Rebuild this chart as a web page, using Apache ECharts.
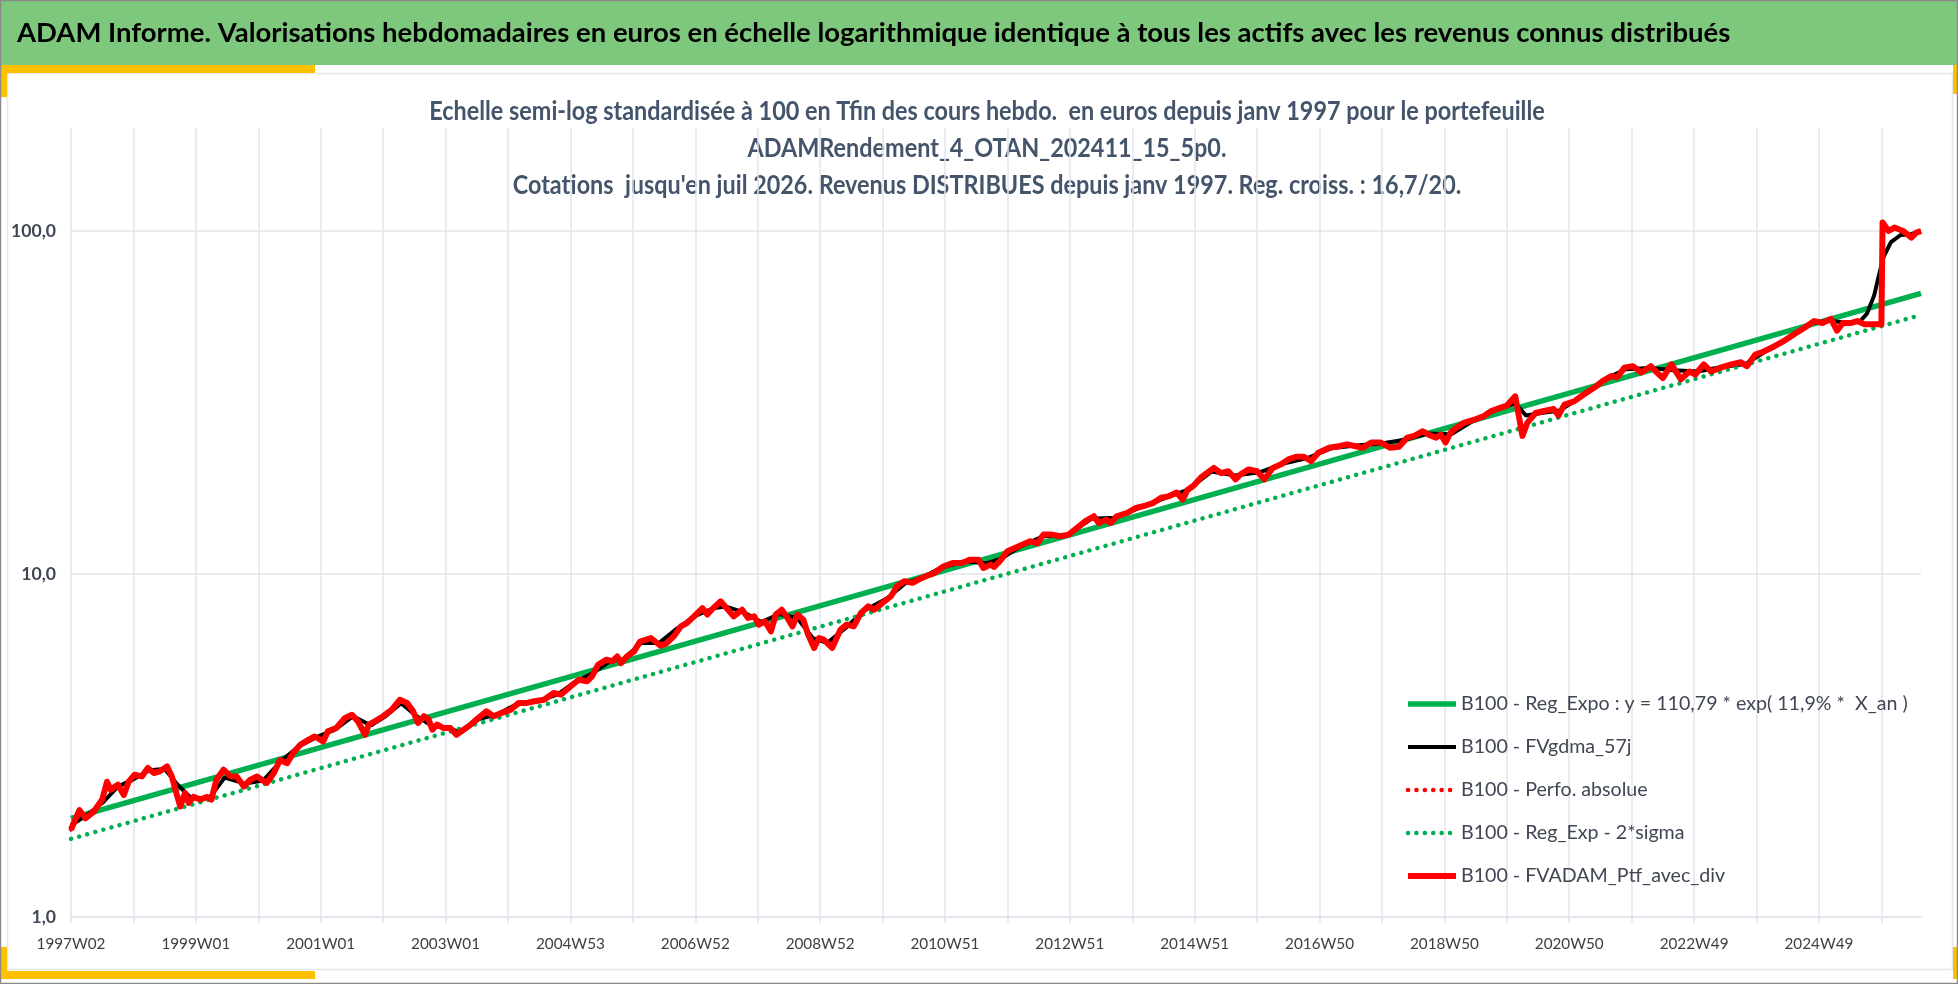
<!DOCTYPE html>
<html lang="fr">
<head>
<meta charset="UTF-8">
<title>ADAM Informe</title>
<script src="https://cdn.jsdelivr.net/npm/echarts@6.0.0/dist/echarts.min.js"></script>
<style>
  html, body { margin: 0; padding: 0; background: #fff; }
  #main { width: 1958px; height: 984px; }
</style>
</head>
<body>
<div id="main"></div>
<script>
var FONT = 'Lato, "Noto Sans", sans-serif';

// textes
var mainTitle = 'ADAM Informe. Valorisations hebdomadaires en euros en échelle logarithmique identique à tous les actifs avec les revenus connus distribués';
var subTitles = [
    'Echelle semi-log standardisée à 100 en Tfin des cours hebdo.  en euros depuis janv 1997 pour le portefeuille',
    'ADAMRendement_4_OTAN_202411_15_5p0.',
    "Cotations  jusqu'en juil 2026. Revenus DISTRIBUES depuis janv 1997. Reg. croiss. : 16,7/20."
];
var legendNames = [
    'B100 - Reg_Expo : y = 110,79 * exp( 11,9% *  X_an )',
    'B100 - FVgdma_57j',
    'B100 - Perfo. absolue',
    'B100 - Reg_Exp - 2*sigma',
    'B100 - FVADAM_Ptf_avec_div'
];
var tickLabels = ['1997W02', '1999W01', '2001W01', '2003W01', '2004W53', '2006W52', '2008W52',
    '2010W51', '2012W51', '2014W51', '2016W50', '2018W50', '2020W50', '2022W49', '2024W49'];

// données : [semaine depuis 1997W02, valeur base 100]
var nbWeeks = 1542;
var regPoints = [[0, 1.94], [1541, 65.9]];
var sigmaPoints = [[0, 1.69], [1541, 57.0]];
var ptfPoints = [
    [0, 1.80], [7, 2.05], [12, 1.94], [19, 2.03], [26, 2.20], [30, 2.48], [33, 2.35], [39, 2.43], [44, 2.27],
    [48, 2.48], [53, 2.60], [59, 2.57], [64, 2.72], [69, 2.63], [74, 2.66], [80, 2.75], [84, 2.57], [87, 2.35],
    [91, 2.10], [95, 2.30], [98, 2.15], [102, 2.24], [108, 2.20], [113, 2.24], [117, 2.20], [121, 2.51],
    [127, 2.69], [133, 2.57], [138, 2.57], [144, 2.40], [149, 2.51], [155, 2.57], [159, 2.51], [163, 2.46],
    [169, 2.63], [174, 2.87], [180, 2.81], [185, 3.01], [191, 3.18], [198, 3.29], [203, 3.36], [210, 3.25],
    [214, 3.48], [221, 3.56], [228, 3.80], [234, 3.89], [239, 3.72], [245, 3.40], [248, 3.64], [253, 3.72],
    [260, 3.85], [267, 4.02], [274, 4.30], [280, 4.21], [285, 3.98], [289, 3.68], [294, 3.85], [298, 3.76],
    [301, 3.52], [305, 3.64], [310, 3.56], [316, 3.56], [321, 3.40], [327, 3.52], [333, 3.64], [339, 3.80],
    [346, 3.98], [352, 3.85], [358, 3.93], [366, 4.02], [373, 4.21], [380, 4.21], [385, 4.25], [394, 4.30],
    [402, 4.50], [408, 4.45], [416, 4.70], [423, 4.92], [430, 4.87], [434, 5.03], [439, 5.44], [446, 5.63],
    [451, 5.57], [455, 5.75], [458, 5.50], [463, 5.75], [469, 5.95], [474, 6.36], [483, 6.51], [491, 6.18],
    [496, 6.28], [502, 6.58], [508, 7.04], [513, 7.20], [519, 7.53], [526, 7.96], [530, 7.62], [535, 7.96],
    [541, 8.33], [546, 7.96], [552, 7.53], [559, 7.87], [564, 7.45], [569, 7.53], [573, 7.12], [578, 7.28],
    [583, 6.81], [587, 7.62], [592, 7.87], [596, 7.53], [601, 7.04], [605, 7.62], [610, 7.36], [614, 6.66],
    [619, 6.09], [623, 6.51], [627, 6.44], [634, 6.09], [641, 6.89], [646, 7.12], [652, 7.04], [658, 7.70],
    [664, 8.05], [669, 7.87], [676, 8.24], [683, 8.62], [688, 9.21], [694, 9.53], [701, 9.43], [706, 9.64],
    [712, 9.86], [719, 10.07], [727, 10.54], [735, 10.78], [742, 10.78], [749, 11.02], [756, 11.02],
    [760, 10.42], [766, 10.66], [769, 10.50], [774, 10.95], [780, 11.66], [788, 12.0], [799, 12.47],
    [805, 12.3], [810, 13.04], [817, 13.04], [824, 12.9], [831, 13.04], [838, 13.64], [845, 14.27],
    [852, 14.75], [856, 14.1], [862, 14.42], [866, 14.1], [871, 14.75], [880, 15.1], [887, 15.6], [894, 15.8],
    [901, 16.1], [908, 16.7], [914, 16.85], [921, 17.3], [926, 16.5], [930, 17.6], [935, 18.1], [941, 19.1],
    [946, 19.7], [952, 20.4], [958, 19.7], [964, 19.95], [970, 18.9], [974, 19.5], [981, 20.2], [988, 19.95],
    [994, 18.9], [1001, 20.4], [1008, 20.9], [1014, 21.6], [1021, 22.0], [1027, 22.0], [1033, 21.35],
    [1039, 22.6], [1048, 23.35], [1056, 23.6], [1063, 23.9], [1070, 23.6], [1076, 23.35], [1083, 24.2],
    [1091, 24.2], [1099, 23.35], [1106, 23.5], [1113, 25.0], [1119, 25.3], [1126, 26.1], [1131, 25.5],
    [1137, 25.0], [1141, 25.5], [1145, 24.2], [1149, 25.8], [1152, 26.4], [1160, 27.6], [1169, 28.2],
    [1177, 28.9], [1183, 29.9], [1191, 30.6], [1196, 31.0], [1203, 33.0], [1206, 28.9], [1209, 25.3],
    [1213, 27.6], [1220, 29.5], [1227, 29.9], [1235, 30.3], [1239, 29.0], [1244, 31.2], [1252, 31.9],
    [1260, 33.4], [1269, 35.0], [1276, 36.6], [1283, 37.8], [1288, 37.5], [1294, 40.0], [1301, 40.4],
    [1308, 38.7], [1316, 40.4], [1321, 38.7], [1326, 37.3], [1333, 40.9], [1341, 37.0], [1348, 39.0],
    [1353, 38.2], [1360, 40.9], [1366, 39.0], [1374, 40.0], [1383, 40.9], [1391, 41.5], [1396, 40.4],
    [1403, 43.7], [1410, 44.6], [1419, 46.2], [1427, 47.9], [1435, 50.0], [1444, 52.3], [1452, 54.7],
    [1459, 54.0], [1466, 55.5], [1471, 51.3], [1476, 54.0], [1483, 54.0], [1488, 54.7], [1494, 53.5],
    [1502, 53.5], [1508, 53.5], [1509, 106], [1514, 100.2], [1519, 102.5], [1526, 100.2], [1533, 95.8],
    [1537, 99.0], [1541, 100]
];
var gdmaPoints = [
    [0, 1.85], [13, 1.98], [26, 2.15], [39, 2.40], [52, 2.52], [65, 2.68], [78, 2.70], [88, 2.45],
    [100, 2.22], [115, 2.22], [128, 2.55], [145, 2.45], [160, 2.50], [175, 2.85], [190, 3.15], [205, 3.35],
    [220, 3.52], [235, 3.85], [250, 3.62], [262, 3.85], [275, 4.20], [288, 3.85], [300, 3.62], [315, 3.55],
    [325, 3.45], [340, 3.78], [355, 3.90], [370, 4.15], [390, 4.28], [405, 4.45], [420, 4.85], [435, 5.15],
    [450, 5.60], [460, 5.65], [475, 6.30], [490, 6.30], [505, 6.95], [520, 7.55], [535, 7.95], [545, 8.05],
    [560, 7.75], [575, 7.25], [590, 7.65], [605, 7.45], [618, 6.50], [630, 6.30], [645, 6.95], [660, 7.80],
    [680, 8.50], [695, 9.40], [710, 9.80], [725, 10.45], [745, 10.90], [762, 10.75], [775, 11.10],
    [790, 12.0], [810, 12.9], [830, 13.0], [850, 14.5], [870, 14.6], [890, 15.6], [910, 16.6], [930, 17.6],
    [950, 19.9], [970, 19.4], [990, 19.8], [1010, 21.0], [1030, 21.8], [1050, 23.3], [1070, 23.7],
    [1090, 24.0], [1110, 24.6], [1130, 25.7], [1150, 25.6], [1170, 28.3], [1190, 30.4], [1203, 31.5],
    [1212, 29.0], [1225, 29.5], [1240, 30.0], [1260, 33.2], [1280, 37.3], [1295, 39.6], [1315, 39.9],
    [1335, 39.3], [1355, 39.0], [1375, 40.2], [1395, 41.0], [1410, 44.3], [1430, 48.8], [1450, 54.0],
    [1465, 54.8], [1480, 54.0], [1490, 54.5], [1496, 57.5], [1502, 65.0], [1506, 74.5], [1510, 84.5],
    [1516, 93.0], [1524, 97.5], [1532, 97.8], [1541, 100]
];

// semaines ISO depuis le lundi 6 janvier 1997
function isoWeek(t) {
    var d = new Date(t);
    var day = d.getUTCDay() || 7;
    d.setUTCDate(d.getUTCDate() + 4 - day);
    var y0 = Date.UTC(d.getUTCFullYear(), 0, 1);
    var w = Math.ceil(((d.getTime() - y0) / 86400000 + 1) / 7);
    return d.getUTCFullYear() + 'W' + (w < 10 ? '0' + w : w);
}
var categories = [];
for (var i = 0; i < nbWeeks; i++) {
    categories.push(isoWeek(Date.UTC(1997, 0, 6) + i * 7 * 86400000));
}

// taille de police pour une largeur de texte donnée
var ctx = document.createElement('canvas').getContext('2d');
function fitSize(text, weight, width) {
    ctx.font = weight + ' 100px ' + FONT;
    return 100 * width / ctx.measureText(text).width;
}
var CAP = 0.7165; // hauteur des capitales de Lato
var titleSize = fitSize(mainTitle, 'bold', 1714);
var subSize = fitSize(subTitles[0], 'bold', 1116);
var legendSize = fitSize(legendNames[0], 'normal', 447);
var xSize = fitSize('1997W02', 'normal', 69);
var ySize = fitSize('100,0', 'bold', 45);

var GRID = '#e2e5eb';
var GREEN = '#00b050';
var RED = '#ff0000';
var YELLOW = '#ffc000';
var DOTS = [0.1, 8.3];

var graphics = [
    { type: 'rect', z: -5, shape: { x: 0, y: 0, width: 1958, height: 65 }, style: { fill: '#7ec87e' } },
    { type: 'rect', z: -5, shape: { x: 7.5, y: 73.5, width: 1945, height: 896 }, style: { fill: 'none', stroke: '#e6e6e6', lineWidth: 1.5 } },
    { type: 'rect', z: -4, shape: { x: 0, y: 65, width: 315, height: 8 }, style: { fill: YELLOW } },
    { type: 'rect', z: -4, shape: { x: 0, y: 65, width: 7, height: 32 }, style: { fill: YELLOW } },
    { type: 'rect', z: -4, shape: { x: 0, y: 971, width: 315, height: 8 }, style: { fill: YELLOW } },
    { type: 'rect', z: -4, shape: { x: 0, y: 947, width: 7, height: 32 }, style: { fill: YELLOW } },
    { type: 'rect', z: -4, shape: { x: 1953, y: 65, width: 4, height: 29 }, style: { fill: YELLOW } },
    { type: 'rect', z: -4, shape: { x: 1953, y: 947, width: 4, height: 32 }, style: { fill: YELLOW } },
    { type: 'rect', z: 50, shape: { x: 0.5, y: 0.5, width: 1957, height: 983 }, style: { fill: 'none', stroke: '#8a8a8a', lineWidth: 1.5 } },
    {
        type: 'text', x: 17, y: 33, scaleY: 19 / (CAP * titleSize),
        style: { text: mainTitle, font: 'bold ' + titleSize + 'px ' + FONT, fill: '#000', textAlign: 'left', textVerticalAlign: 'middle' }
    }
];
[111, 148, 185].forEach(function (y, k) {
    graphics.push({
        type: 'text', x: 987, y: y, scaleY: 19 / (CAP * subSize),
        style: { text: subTitles[k], font: 'bold ' + subSize + 'px ' + FONT, fill: '#44546a', textAlign: 'center', textVerticalAlign: 'middle' }
    });
});

var myChart = echarts.init(document.getElementById('main'));
var option = {
    backgroundColor: '#ffffff',
    animation: false,
    graphic: graphics,
    grid: { left: 71, right: 37, top: 128, bottom: 67 },
    legend: {
        orient: 'vertical',
        left: 1400,
        top: 689,
        itemWidth: 48,
        itemHeight: 20,
        itemGap: 23,
        data: legendNames,
        itemStyle: { opacity: 0 },
        lineStyle: { width: 'inherit' },
        textStyle: { fontFamily: FONT, fontSize: legendSize, color: '#404654' }
    },
    xAxis: {
        type: 'category',
        data: categories,
        boundaryGap: false,
        axisLine: { show: true, lineStyle: { color: GRID, width: 1.5 } },
        axisTick: { show: true, interval: 51, length: 6, lineStyle: { color: GRID, width: 1.5 } },
        axisLabel: {
            interval: 103,
            margin: 20,
            fontFamily: FONT,
            fontSize: xSize,
            color: '#404040',
            formatter: function (v, idx) { return tickLabels[idx / 104] || ''; }
        },
        splitLine: { show: true, interval: 51, lineStyle: { color: GRID, width: 1.5 } }
    },
    yAxis: {
        type: 'log',
        logBase: 10,
        min: 1,
        max: 200,
        axisLine: { show: false },
        axisTick: { show: false },
        axisLabel: {
            margin: 15,
            fontFamily: FONT,
            fontWeight: 'bold',
            fontSize: ySize,
            color: '#3e4654',
            showMaxLabel: false,
            formatter: function (v) { return v.toFixed(1).replace('.', ','); }
        },
        splitLine: { show: true, showMaxLine: false, lineStyle: { color: GRID, width: 1.5 } }
    },
    series: [
        {
            name: legendNames[0], type: 'line', data: regPoints, symbol: 'none', silent: true,
            itemStyle: { color: GREEN, opacity: 0 }, lineStyle: { color: GREEN, width: 5.5 }
        },
        {
            name: legendNames[1], type: 'line', data: gdmaPoints, symbol: 'none', silent: true,
            itemStyle: { color: '#000', opacity: 0 }, lineStyle: { color: '#000', width: 4 }
        },
        {
            name: legendNames[2], type: 'line', data: ptfPoints, symbol: 'none', silent: true,
            itemStyle: { color: RED, opacity: 0 }, lineStyle: { color: RED, width: 4.5, type: DOTS, cap: 'round' }
        },
        {
            name: legendNames[3], type: 'line', data: sigmaPoints, symbol: 'none', silent: true,
            itemStyle: { color: GREEN, opacity: 0 }, lineStyle: { color: GREEN, width: 4.5, type: DOTS, cap: 'round' }
        },
        {
            name: legendNames[4], type: 'line', data: ptfPoints, symbol: 'none', silent: true,
            itemStyle: { color: RED, opacity: 0 }, lineStyle: { color: RED, width: 6, join: 'round' }
        }
    ]
};
myChart.setOption(option);
</script>
</body>
</html>
